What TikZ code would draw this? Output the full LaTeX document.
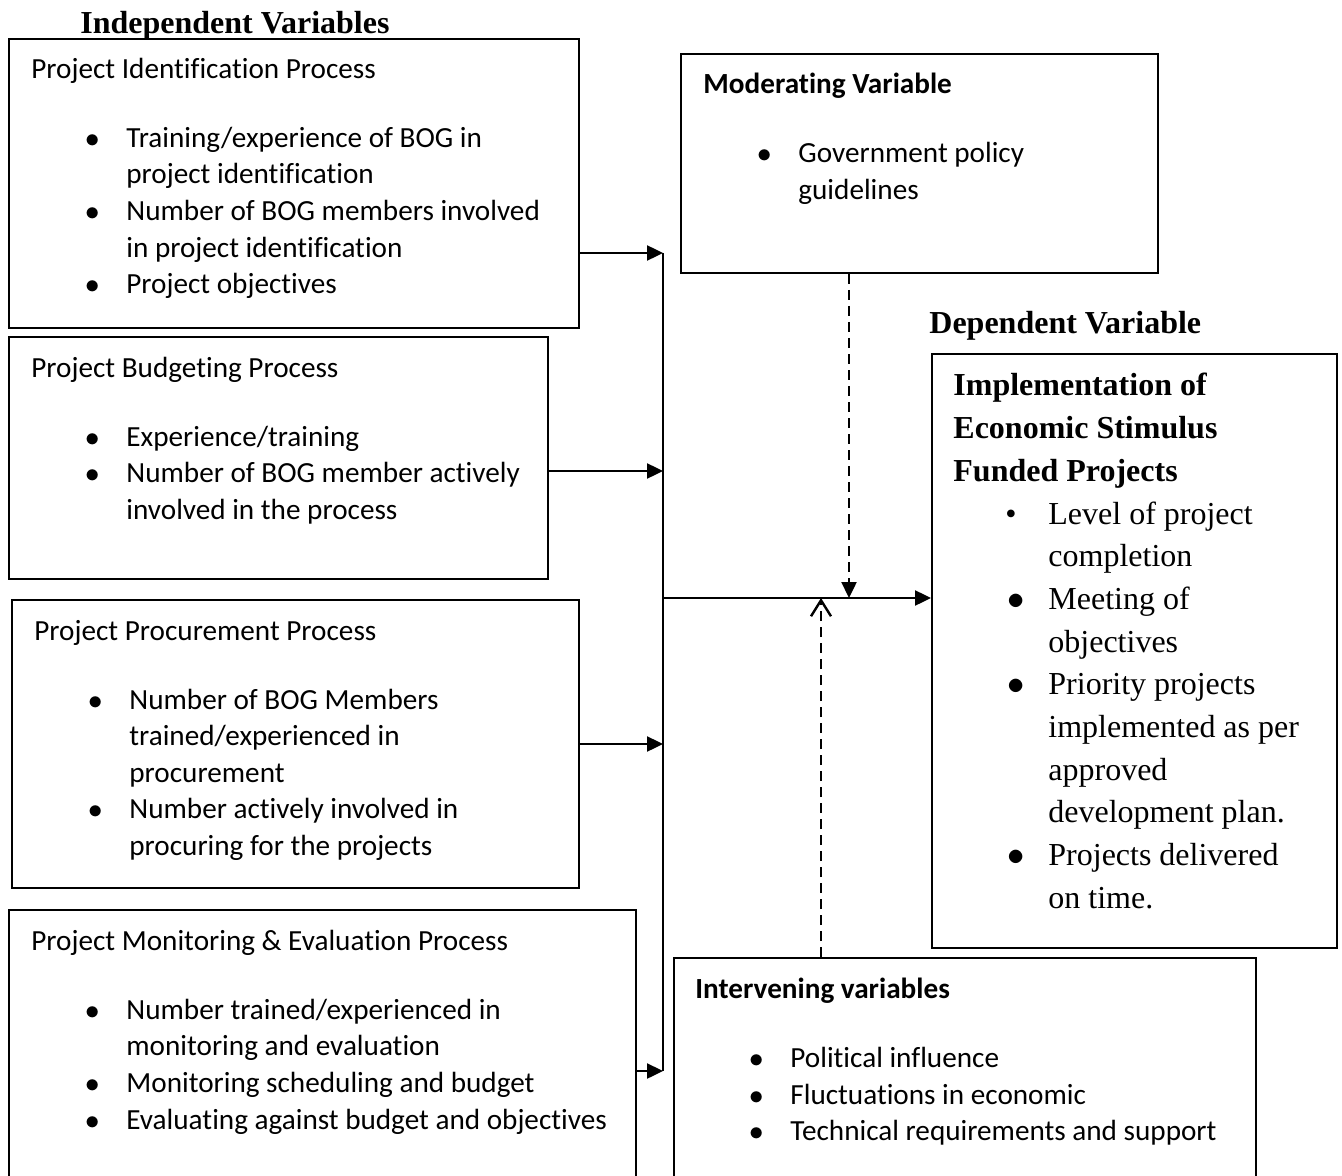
\documentclass[tikz,border=0pt]{standalone}
\usepackage{fontspec}
\setmainfont{Carlito}[Ligatures={NoCommon,NoRare,NoContextual}]
\newfontfamily\tnr{Liberation Serif}
\usetikzlibrary{arrows.meta, fit, positioning}

\newcommand{\bul}{\hspace*{27pt}\makebox[20.5pt][l]{$\bullet$}}
\newcommand{\ind}{\hspace*{47.5pt}}

\begin{document}
\begin{tikzpicture}[x=0.5pt, y=-0.5pt, >={Triangle[length=8pt,width=7.5pt]},
  box/.style={draw, line width=1pt, inner sep=0pt},
  txt/.style={anchor=north west, inner sep=0pt, align=left, font=\fontsize{14.6}{18.3}\selectfont},
  sertxt/.style={anchor=north west, inner sep=0pt, align=left, font=\tnr\fontsize{16}{21.35}\selectfont},
  title/.style={anchor=base west, inner sep=0pt, font=\tnr\bfseries\fontsize{16}{16}\selectfont},
  link/.style={line width=1.2pt}]

\useasboundingbox (0,0) rectangle (1342,1176);

% boxes
\node [box, fit={(9,39) (579,328)}] (ident) {};
\node [box, fit={(9,337) (548,579)}] (budget) {};
\node [box, fit={(12,600) (579,888)}] (procure) {};
\node [box, fit={(9,910) (636,1190)}] (monitor) {};
\node [box, fit={(681,54) (1158,273)}] (moder) {};
\node [box, fit={(932,354) (1337,948)}] (depend) {};
\node [box, fit={(674,958) (1256,1190)}] (interv) {};

% titles
\node [title] (indeptitle) at (80,34) {Independent Variables};
\node [title] (deptitle) at (929,334) {Dependent Variable};

% box texts
\node [txt] (identtxt) at (31,58) {Project Identification Process\\[16pt]
  \bul Training/experience of BOG in\\
  \ind project identification\\
  \bul Number of BOG members involved\\
  \ind in project identification\\
  \bul Project objectives};

\node [txt] (budgettxt) at (31,357) {Project Budgeting Process\\[16pt]
  \bul Experience/training\\
  \bul Number of BOG member actively\\
  \ind involved in the process};

\node [txt] (procuretxt) at (34,620) {Project Procurement Process\\[16pt]
  \bul Number of BOG Members\\
  \ind trained/experienced in\\
  \ind procurement\\
  \bul Number actively involved in\\
  \ind procuring for the projects};

\node [txt] (monitortxt) at (31,930) {Project Monitoring \& Evaluation Process\\[16pt]
  \bul Number trained/experienced in\\
  \ind monitoring and evaluation\\
  \bul Monitoring scheduling and budget\\
  \bul Evaluating against budget and objectives};

\node [txt] (modertxt) at (703,73) {\textbf{Moderating Variable}\\[16pt]
  \bul Government policy\\
  \ind guidelines};

\node [txt] (intervtxt) at (695,978) {\textbf{Intervening variables}\\[16pt]
  \bul Political influence\\
  \bul Fluctuations in economic\\
  \bul Technical requirements and support};

\node [sertxt] (dependtxt) at (953,373) {\textbf{Implementation of}\\
  \textbf{Economic Stimulus}\\
  \textbf{Funded Projects}\\
  \hspace*{26pt}\makebox[21.5pt][l]{\textbullet}Level of project\\
  \ind completion\\
  \bul Meeting of\\
  \ind objectives\\
  \bul Priority projects\\
  \ind implemented as per\\
  \ind approved\\
  \ind development plan.\\
  \bul Projects delivered\\
  \ind on time.};

% junctions
\coordinate (j1) at (663,253);
\coordinate (j2) at (663,471);
\coordinate (j3) at (663,744);
\coordinate (j4) at (663,1071);
\coordinate (hub) at (663,598);
\coordinate (mhit) at (849,598);
\coordinate (ihit) at (821,598);

% connectors
\draw [link, ->] (ident.east |- j1) -- (j1);
\draw [link, ->] (budget.east |- j2) -- (j2);
\draw [link, ->] (procure.east |- j3) -- (j3);
\draw [link, ->] (monitor.east |- j4) -- (j4);
\draw [link] (j1) -- (j4);
\draw [link, ->] (hub) -- (depend.west |- hub);
\draw [link, dash pattern=on 5pt off 3pt, ->] (moder.south -| mhit) -- (mhit);
\draw [link, dash pattern=on 5pt off 3pt, -{Straight Barb[length=8pt,width=10pt]}] (interv.north -| ihit) -- (ihit);

\end{tikzpicture}
\end{document}
